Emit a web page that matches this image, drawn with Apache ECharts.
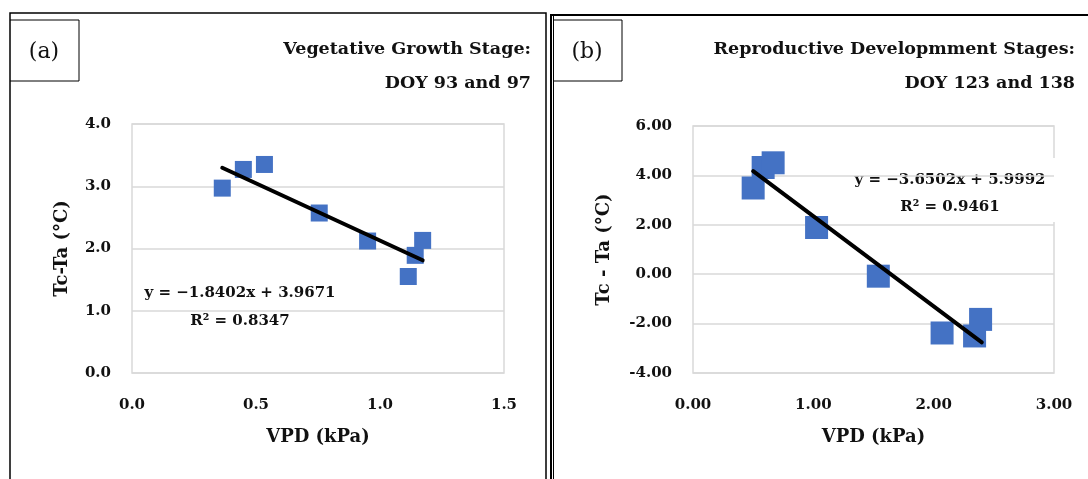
<!DOCTYPE html>
<html><head><meta charset="utf-8">
<script src="https://cdn.jsdelivr.net/npm/echarts@6/dist/echarts.min.js"></script>
<style>html,body{margin:0;padding:0;background:#fff}#c{width:1088px;height:479px}</style>
</head><body><div id="c"></div>
<script>
// Panel (a): Vegetative growth stage
const vpdA = [0.364, 0.449, 0.534, 0.755, 0.950, 1.142, 1.172, 1.114];
const tcA  = [2.97, 3.27, 3.35, 2.57, 2.12, 1.89, 2.13, 1.55];
const trendA = [-1.8402, 3.9671];      // slope, intercept
const trendRangeA = [0.364, 1.172];
// Panel (b): Reproductive development stages
const vpdB = [0.50, 0.583, 0.666, 1.027, 1.54, 2.07, 2.34, 2.39];
const tcB  = [3.49, 4.32, 4.51, 1.89, -0.08, -2.38, -2.50, -1.83];
const trendB = [-3.6502, 5.9992];
const trendRangeB = [0.50, 2.40];

const FONT = 'DejaVu Serif';
const INK = '#111';
const ptsA = vpdA.map((v, i) => [v, tcA[i]]);
const ptsB = vpdB.map((v, i) => [v, tcB[i]]);
const lineA = trendRangeA.map(x => [x, trendA[0] * x + trendA[1]]);
const lineB = trendRangeB.map(x => [x, trendB[0] * x + trendB[1]]);

const tickLbl = (d) => ({ fontFamily: FONT, fontWeight: 'bold', fontSize: 15, color: INK, formatter: v => v.toFixed(d) });
const nameStyle = { fontFamily: FONT, fontWeight: 'bold', fontSize: 18, color: INK };
const gridLine = { show: true, lineStyle: { color: '#d9d9d9', width: 1.5 } };
const titleStyle = (t) => ({ text: t, fontFamily: FONT, fontWeight: 'bold', fontSize: 17.5, fill: INK, align: 'right', verticalAlign: 'middle' });
const eqStyle = (t) => ({ text: t, fontFamily: FONT, fontWeight: 'bold', fontSize: 15, fill: INK, align: 'center', verticalAlign: 'middle' });

const chart = echarts.init(document.getElementById('c'), null, { renderer: 'canvas' });
chart.setOption({
  animation: false,
  backgroundColor: '#fff',
  grid: [
    { left: 132, top: 124, width: 372, height: 249, show: true, borderColor: '#d9d9d9', borderWidth: 1.5, containLabel: false },
    { left: 693, top: 126, width: 361, height: 247, show: true, borderColor: '#d9d9d9', borderWidth: 1.5, containLabel: false }
  ],
  xAxis: [
    { gridIndex: 0, type: 'value', min: 0, max: 1.5, interval: 0.5, axisLine: { show: false }, axisTick: { show: false }, splitLine: { show: false },
      axisLabel: Object.assign(tickLbl(1), { margin: 25 }), name: 'VPD (kPa)', nameLocation: 'middle', nameGap: 55, nameTextStyle: nameStyle },
    { gridIndex: 1, type: 'value', min: 0, max: 3, interval: 1, axisLine: { show: false }, axisTick: { show: false }, splitLine: { show: false },
      axisLabel: Object.assign(tickLbl(2), { margin: 25 }), name: 'VPD (kPa)', nameLocation: 'middle', nameGap: 55, nameTextStyle: nameStyle }
  ],
  yAxis: [
    { gridIndex: 0, type: 'value', min: 0, max: 4, interval: 1, axisLine: { show: false }, axisTick: { show: false }, splitLine: gridLine,
      axisLabel: Object.assign(tickLbl(1), { margin: 21 }), name: 'Tc-Ta (°C)', nameLocation: 'middle', nameRotate: 90, nameGap: 61, nameTextStyle: nameStyle },
    { gridIndex: 1, type: 'value', min: -4, max: 6, interval: 2, axisLine: { show: false }, axisTick: { show: false }, splitLine: gridLine,
      axisLabel: Object.assign(tickLbl(2), { margin: 21 }), name: 'Tc - Ta (°C)', nameLocation: 'middle', nameRotate: 90, nameGap: 80, nameTextStyle: nameStyle }
  ],
  series: [
    { type: 'scatter', xAxisIndex: 0, yAxisIndex: 0, symbol: 'rect', symbolSize: 17, itemStyle: { color: '#4472C4', opacity: 1 }, data: ptsA, z: 2 },
    { type: 'line', xAxisIndex: 0, yAxisIndex: 0, data: lineA, symbol: 'none', lineStyle: { color: '#000', width: 4, cap: 'round' }, z: 3 },
    { type: 'scatter', xAxisIndex: 1, yAxisIndex: 1, symbol: 'rect', symbolSize: 23, itemStyle: { color: '#4472C4', opacity: 1 }, data: ptsB, z: 2 },
    { type: 'line', xAxisIndex: 1, yAxisIndex: 1, data: lineB, symbol: 'none', lineStyle: { color: '#000', width: 4, cap: 'round' }, z: 3 }
  ],
  graphic: [
    // frames
    { type: 'polyline', shape: { points: [[10, 480], [10, 13], [546, 13], [546, 480]] }, style: { stroke: '#000', lineWidth: 1.5, fill: null } },
    { type: 'polyline', shape: { points: [[10, 20], [79, 20], [79, 81], [10, 81]] }, style: { stroke: '#000', lineWidth: 1, fill: null } },
    { type: 'polyline', shape: { points: [[551, 480], [551, 15], [1090, 15]] }, style: { stroke: '#000', lineWidth: 2, fill: null } },
    { type: 'line', shape: { x1: 553.5, y1: 15, x2: 553.5, y2: 480 }, style: { stroke: '#000', lineWidth: 1 } },
    { type: 'polyline', shape: { points: [[553, 20], [622, 20], [622, 81], [553, 81]] }, style: { stroke: '#000', lineWidth: 1, fill: null } },
    // panel labels
    { type: 'text', x: 44, y: 52, style: { text: '(a)', fontFamily: FONT, fontSize: 22, fill: INK, align: 'center', verticalAlign: 'middle' } },
    { type: 'text', x: 587, y: 52, style: { text: '(b)', fontFamily: FONT, fontSize: 22, fill: INK, align: 'center', verticalAlign: 'middle' } },
    // titles
    { type: 'text', x: 531, y: 49, style: titleStyle('Vegetative Growth Stage:') },
    { type: 'text', x: 531, y: 83, style: titleStyle('DOY 93 and 97') },
    { type: 'text', x: 1075, y: 49, style: titleStyle('Reproductive Developmment Stages:') },
    { type: 'text', x: 1075, y: 83, style: titleStyle('DOY 123 and 138') },
    // equation boxes
    { type: 'rect', shape: { x: 135, y: 282, width: 210, height: 52 }, style: { fill: '#fff' } },
    { type: 'text', x: 240, y: 293, style: eqStyle('y = −1.8402x + 3.9671') },
    { type: 'text', x: 240, y: 321, style: eqStyle('R² = 0.8347') },
    { type: 'rect', shape: { x: 847, y: 158, width: 210, height: 64 }, style: { fill: '#fff' } },
    { type: 'text', x: 950, y: 180, style: eqStyle('y = −3.6502x + 5.9992') },
    { type: 'text', x: 950, y: 207, style: eqStyle('R² = 0.9461') }
  ]
});
</script></body></html>
